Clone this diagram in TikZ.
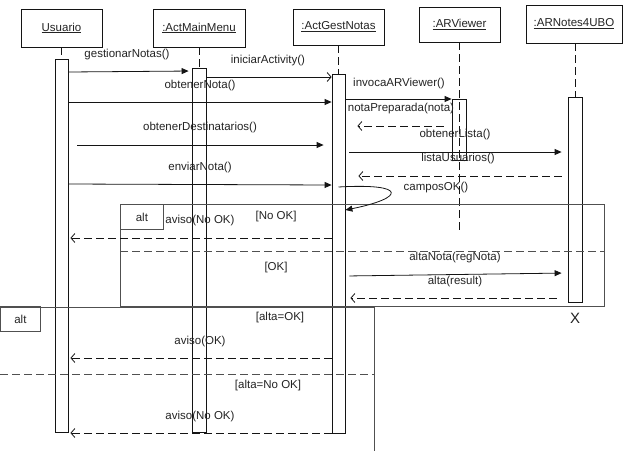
\documentclass[tikz,border=0pt]{standalone}
\usepackage{fontspec}
\setmainfont{Liberation Sans}
\usetikzlibrary{arrows.meta}
\definecolor{txt}{RGB}{35,35,35}
\definecolor{ln}{RGB}{20,20,20}
\definecolor{framec}{RGB}{80,80,80}
\begin{document}
\begin{tikzpicture}[x=1pt,y=-1pt,
  every node/.style={font=\fontsize{11.5}{13}\selectfont, text=txt, inner sep=0pt},
  head/.style={draw=ln, line width=0.8pt},
  act/.style={draw=ln, line width=0.8pt, anchor=north},
  life/.style={draw=ln, dash pattern=on 8pt off 4pt, line width=0.8pt},
  msg/.style={draw=ln, -{Triangle[length=7pt,width=6pt]}, line width=0.8pt},
  opn/.style={draw=ln, -{Straight Barb[length=4pt,width=9pt]}, line width=0.8pt},
  ret/.style={draw=ln, -{Straight Barb[length=4pt,width=9pt]}, dash pattern=on 8pt off 4pt, line width=0.8pt},
  frame/.style={draw=framec, line width=0.8pt},
  fdash/.style={draw=framec, dash pattern=on 8pt off 4pt, line width=0.8pt},
  altbox/.style={draw=framec, line width=0.8pt, anchor=north west}]
\useasboundingbox (0,0) rectangle (623,451);

% heads
\node[head, minimum width=81pt, minimum height=38pt] (usuario) at (61.5,28) {\underline{Usuario}};
\node[head, minimum width=92pt, minimum height=38pt] (mainmenu) at (199,28) {\underline{:ActMainMenu}};
\node[head, minimum width=91pt, minimum height=36pt] (gestnotas) at (338.5,27) {\underline{:ActGestNotas}};
\node[head, minimum width=81pt, minimum height=35pt] (arviewer) at (459.5,24.5) {\underline{:ARViewer}};
\node[head, minimum width=96pt, minimum height=38pt] (arnotes) at (574,24) {\underline{:ARNotes4UBO}};

% activations
\node[act, minimum width=13pt, minimum height=373pt] (uact) at (61.5,59) {};
\node[act, minimum width=14pt, minimum height=364pt] (mact) at (199,68) {};
\node[act, minimum width=13pt, minimum height=359pt] (gact) at (338.5,74) {};
\node[act, minimum width=14pt, minimum height=61pt] (vact) at (459,99) {};
\node[act, minimum width=14pt, minimum height=205pt] (nact) at (575,97) {};
\node[font=\fontsize{15}{16}\selectfont] (xend) at (575,318) {X};

% lifelines
\coordinate (vend) at (459,232);
\draw[life] (usuario.south) -- (uact.north);
\draw[life] (mainmenu.south) -- (mact.north);
\draw[life] (gestnotas.south) -- (gact.north);
\draw[life] (arviewer.south -| vend) -- (vend);
\draw[life] (arnotes.south -| nact.north) -- (nact.north);

% frames
\draw[frame] (120,204) rectangle (604,306);
\node[altbox, minimum width=43pt, minimum height=25pt] (alt1) at (120,204) {alt};
\draw[fdash] (120,251) -- (604,251);
\draw[frame] (0,307) -- (374,307) -- (374,451);
\node[altbox, minimum width=40pt, minimum height=25pt] (alt2) at (0,306) {alt};
\draw[fdash] (0,374) -- (374,374);

% messages
\draw[msg, shorten >=3pt] (uact.east |- 0,72) -- (mact.west |- 0,71);
\node (lgest) at (127,55) {gestionarNotas()};
\draw[opn] (mact.east |- 0,77) -- (gact.west |- 0,77);
\node (linic) at (268,61) {iniciarActivity()};
\draw[msg] (uact.east |- 0,102) -- (gact.west |- 0,102);
\node (lobt) at (200,86) {obtenerNota()};
\draw[msg] (gact.east |- 0,99) -- (vact.west |- 0,99);
\node (linv) at (399,84) {invocaARViewer()};
\draw[ret, shorten <=8pt, shorten >=12pt] (vact.west |- 0,126) -- (gact.east |- 0,126);
\node (lnota) at (401,109) {notaPreparada(nota)};
\draw[msg, shorten <=9pt, shorten >=8pt] (uact.east |- 0,145) -- (gact.west |- 0,145);
\node (ldest) at (200,128) {obtenerDestinatarios()};
\draw[msg, shorten <=4pt, shorten >=6pt] (gact.east |- 0,152) -- (nact.west |- 0,152);
\node (llista) at (455,135) {obtenerLista()};
\draw[ret, shorten <=6pt, shorten >=13pt] (nact.west |- 0,176) -- (gact.east |- 0,176);
\node (lusu) at (458,159) {listaUsuarios()};
\draw[msg] (uact.east |- 0,184) -- (gact.west |- 0,185);
\node (lenv) at (200,168) {enviarNota()};
\draw[msg] (gact.center |- 0,187) .. controls (408,183) and (405,198) .. (gact.east |- 0,210);
\node (lcamp) at (436,188) {camposOK()};

% inner alt
\node (gnok) at (276,217) {[No OK]};
\node (lav1) at (200,221) {aviso(No OK)};
\draw[ret, shorten >=2pt] (gact.west |- 0,238) -- (uact.east |- 0,238);
\node (gok) at (276,268) {[OK]};
\draw[msg, shorten <=4pt, shorten >=6pt] (gact.east |- 0,276) -- (nact.west |- 0,273);
\node (lalta) at (455,258) {altaNota(regNota)};
\draw[ret, shorten <=11pt, shorten >=5pt] (nact.west |- 0,298) -- (gact.east |- 0,298);
\node (lres) at (455,282) {alta(result)};

% outer alt
\node (galok) at (280,318) {[alta=OK]};
\node (lav2) at (200,342) {aviso(OK)};
\draw[ret, shorten >=2pt] (gact.west |- 0,358) -- (uact.east |- 0,358);
\node (galnok) at (268,386) {[alta=No OK]};
\node (lav3) at (200,417) {aviso(No OK)};
\draw[ret, shorten >=2pt] (gact.west |- 0,433) -- (uact.east |- 0,433);
\end{tikzpicture}
\end{document}
